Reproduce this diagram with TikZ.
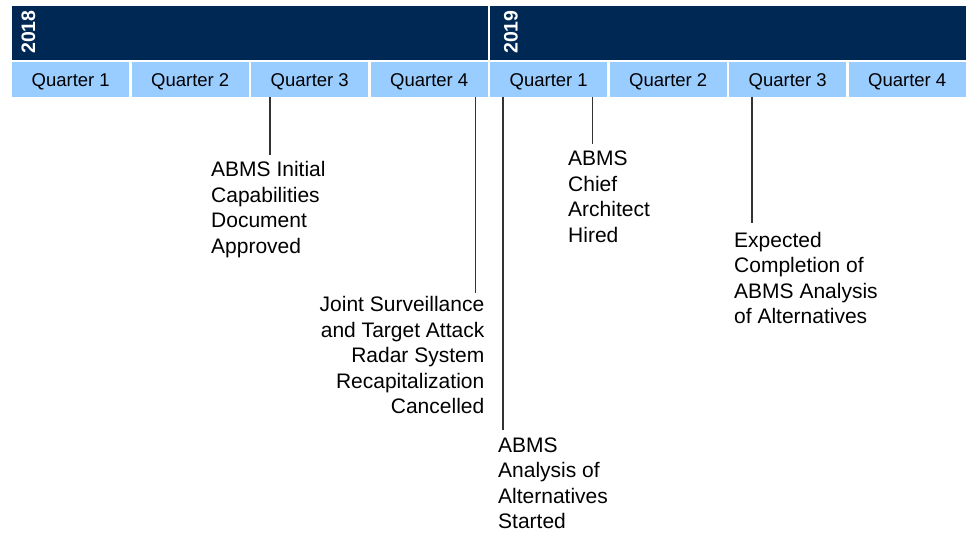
\documentclass[tikz,border=0pt]{standalone}
\usepackage{fontspec}
\setmainfont{Liberation Sans}
\usetikzlibrary{calc}
\definecolor{navy}{HTML}{002855}
\definecolor{qblue}{HTML}{99CCFF}
\definecolor{lncol}{HTML}{333333}
\begin{document}
\begin{tikzpicture}[x=1pt,y=-1pt,
  yearbar/.style={fill=navy,draw=none,anchor=north west,inner sep=0,minimum height=54pt},
  yeartext/.style={text=white,font=\bfseries\fontsize{19.5}{22}\selectfont,rotate=90,anchor=base west,inner sep=0},
  qbox/.style={fill=qblue,draw=none,anchor=north west,inner sep=0,minimum width=117pt,minimum height=34.5pt},
  qtext/.style={font=\fontsize{18.5}{21}\selectfont,anchor=base,inner sep=0},
  ann/.style={font=\fontsize{21}{25.5}\selectfont,inner sep=0},
  conn/.style={draw=lncol,line width=1.1pt}]
\useasboundingbox (0,0) rectangle (970,533);
% year bars
\node[yearbar,minimum width=475.5pt] (y18) at (12,5.5) {};
\node[yearbar,minimum width=476pt] (y19) at (490,5.5) {};
\node[yeartext] (y18t) at (35,54) {2018};
\node[yeartext] (y19t) at (517.5,54) {2019};
% quarters
\foreach \i/\x in {1/12,2/131.5,3/251,4/370.5}{
  \node[qbox] (qa\i) at (\x,62) {};
  \node[qtext] at ($(qa\i.north)+(0,24)$) {Quarter \i};
}
\foreach \i/\x in {1/490,2/609.5,3/729,4/848.5}{
  \node[qbox] (qb\i) at (\x,62) {};
  \node[qtext] at ($(qb\i.north)+(0,24)$) {Quarter \i};
}
% annotations
\node[ann,anchor=north west,align=left] (a1) at (211,161.5) {ABMS Initial\\Capabilities\\Document\\Approved};
\node[ann,anchor=north east,align=right] (a2) at (484.5,296.5) {Joint Surveillance\\and Target Attack\\Radar System\\Recapitalization\\Cancelled};
\node[ann,anchor=north west,align=left] (a3) at (498,437.5) {ABMS\\Analysis of\\Alternatives\\Started};
\node[ann,anchor=north west,align=left] (a4) at (568,151) {ABMS\\Chief\\Architect\\Hired};
\node[ann,anchor=north west,align=left] (a5) at (734,232) {Expected\\Completion of\\ABMS Analysis\\of Alternatives};
% connector x positions
\coordinate (c1) at (270,0);
\coordinate (c2) at (475.5,0);
\coordinate (c3) at (503,0);
\coordinate (c4) at (592.5,0);
\coordinate (c5) at (752,0);
\draw[conn] (c1 |- qa3.south) -- ($(c1 |- a1.north)+(0,-7)$);
\draw[conn] (c2 |- qa4.south) -- ($(c2 |- a2.north)+(0,-4)$);
\draw[conn] (c3 |- qb1.south) -- ($(c3 |- a3.north)+(0,-8)$);
\draw[conn] (c4 |- qb1.south) -- ($(c4 |- a4.north)+(0,-7)$);
\draw[conn] (c5 |- qb3.south) -- ($(c5 |- a5.north)+(0,-9)$);
\end{tikzpicture}
\end{document}
